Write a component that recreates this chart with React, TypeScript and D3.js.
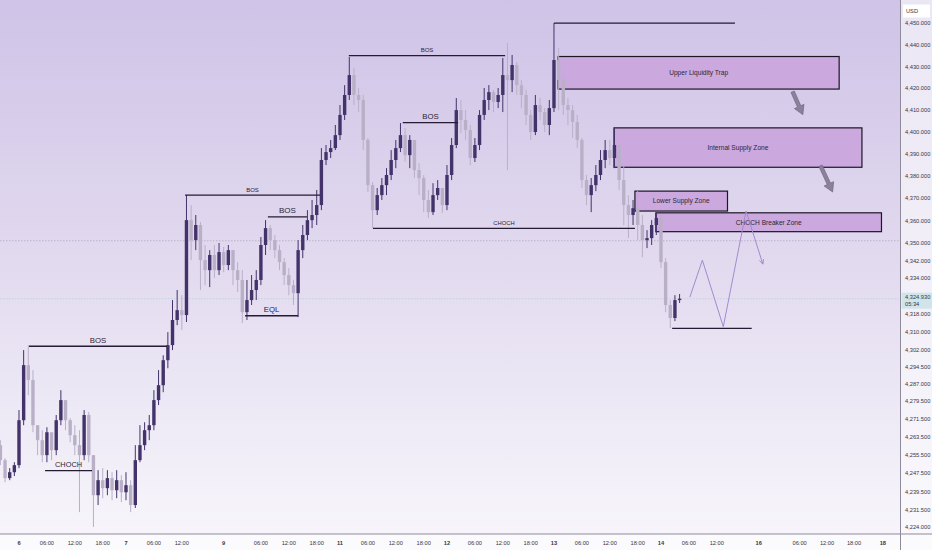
import React from "react";
import * as d3 from "d3";

// ---------- DATA (1h XAUUSD candles) ----------
const firstOpen = 4259.9;
const closes = [
  4253.3, 4245.4, 4248.0, 4251.1, 4270.9, 4295.3, 4288.7, 4268.7, 4262.1, 4255.5,
  4265.6, 4257.7, 4270.9, 4279.8, 4270.9, 4264.3, 4259.9, 4255.5, 4273.2, 4255.5,
  4237.9, 4244.5, 4241.0, 4245.4, 4240.1, 4244.5, 4239.2, 4242.3, 4233.6, 4253.3,
  4259.9, 4266.5, 4268.7, 4279.8, 4286.4, 4297.5, 4304.2, 4315.4, 4319.8, 4317.6,
  4360.2, 4351.2, 4358.0, 4342.2, 4337.7, 4344.5, 4337.7, 4345.8, 4340.0, 4346.7,
  4337.7, 4333.3, 4318.9, 4324.3, 4328.8, 4333.3, 4349.0, 4356.6, 4351.2, 4346.7,
  4341.3, 4335.5, 4331.0, 4327.4, 4346.7, 4353.5, 4360.2, 4362.5, 4367.0, 4387.4,
  4391.0, 4392.8, 4398.7, 4407.9, 4417.0, 4426.1, 4417.0, 4414.7, 4396.5, 4376.0,
  4364.7, 4371.5, 4376.0, 4380.6, 4387.4, 4392.8, 4398.7, 4389.6, 4396.5, 4382.8,
  4379.2, 4369.3, 4363.8, 4371.5, 4374.7, 4367.0, 4380.6, 4394.2, 4410.1, 4405.6,
  4401.0, 4388.3, 4394.2, 4407.9, 4414.7, 4418.3, 4413.8, 4417.0, 4426.1, 4423.8,
  4430.7, 4421.5, 4417.0, 4407.9, 4400.1, 4412.4, 4409.2, 4403.3, 4411.0, 4433.0,
  4423.8, 4412.4, 4410.1, 4404.7, 4396.5, 4378.3, 4371.5, 4376.0, 4380.6, 4387.4,
  4391.9, 4388.3, 4394.2, 4378.3, 4367.0, 4362.5, 4365.6, 4358.0, 4351.2, 4352.1,
  4358.0, 4361.1, 4341.3, 4322.1, 4316.3, 4324.3, 4324.93,
];
const highs = [
  4262.1, 4254.2, 4249.8, 4252.4, 4275.4, 4302.0, 4304.2, 4293.1, 4268.7, 4266.5,
  4267.8, 4265.2, 4273.2, 4284.2, 4277.6, 4271.8, 4268.7, 4266.5, 4275.4, 4274.5,
  4255.5, 4248.9, 4249.8, 4248.9, 4248.0, 4248.9, 4246.7, 4248.0, 4244.5, 4259.9,
  4268.7, 4270.0, 4273.2, 4284.2, 4293.1, 4299.7, 4310.0, 4324.3, 4328.8, 4326.5,
  4371.5, 4367.0, 4362.5, 4359.3, 4349.0, 4346.7, 4349.0, 4349.9, 4348.1, 4349.0,
  4346.7, 4341.3, 4337.7, 4333.3, 4335.5, 4337.7, 4352.6, 4360.2, 4358.0, 4353.5,
  4349.0, 4343.1, 4338.6, 4333.3, 4351.2, 4358.0, 4364.7, 4369.3, 4373.8, 4392.8,
  4394.2, 4396.5, 4403.3, 4412.4, 4421.5, 4434.4, 4429.4, 4420.2, 4417.0, 4397.4,
  4377.4, 4374.7, 4379.2, 4383.7, 4391.9, 4396.5, 4404.2, 4401.9, 4398.7, 4396.5,
  4386.0, 4380.6, 4373.8, 4376.9, 4378.3, 4374.7, 4385.1, 4397.4, 4415.6, 4414.7,
  4410.1, 4403.3, 4397.4, 4410.1, 4420.2, 4421.5, 4419.3, 4420.2, 4433.9, 4440.8,
  4435.3, 4432.1, 4423.8, 4419.3, 4410.1, 4417.0, 4415.6, 4411.0, 4414.7, 4450.0,
  4438.5, 4426.1, 4415.6, 4412.4, 4407.9, 4397.4, 4380.6, 4379.2, 4385.1, 4391.9,
  4396.5, 4396.5, 4401.9, 4394.2, 4385.1, 4371.5, 4369.3, 4373.3, 4362.5, 4355.7,
  4360.2, 4363.4, 4362.5, 4343.1, 4324.3, 4326.5, 4327.0,
];
const lows = [
  4251.1, 4243.6, 4244.5, 4246.3, 4249.8, 4268.7, 4282.0, 4265.6, 4255.5, 4252.4,
  4252.4, 4253.3, 4255.5, 4268.7, 4266.5, 4261.2, 4255.5, 4230.5, 4253.3, 4252.4,
  4224.0, 4233.6, 4236.6, 4237.9, 4235.7, 4236.6, 4234.9, 4235.7, 4230.5, 4232.3,
  4252.4, 4257.7, 4262.1, 4266.5, 4277.6, 4283.3, 4293.9, 4302.0, 4313.1, 4310.9,
  4314.5, 4342.2, 4346.7, 4328.8, 4331.0, 4330.1, 4334.1, 4335.5, 4336.8, 4337.7,
  4331.0, 4327.9, 4314.0, 4315.4, 4322.1, 4324.3, 4331.0, 4344.5, 4346.7, 4343.1,
  4337.7, 4331.0, 4326.5, 4322.1, 4316.7, 4343.1, 4351.2, 4356.6, 4358.0, 4364.7,
  4385.1, 4388.3, 4391.9, 4396.5, 4405.6, 4414.7, 4412.4, 4409.2, 4391.9, 4372.9,
  4356.6, 4362.5, 4369.3, 4371.5, 4378.3, 4383.7, 4391.0, 4386.5, 4383.7, 4379.2,
  4371.5, 4363.8, 4361.1, 4362.5, 4369.3, 4363.4, 4364.7, 4378.3, 4392.8, 4399.6,
  4396.5, 4385.1, 4386.5, 4391.9, 4405.6, 4410.1, 4409.2, 4411.0, 4409.2, 4382.8,
  4418.3, 4417.0, 4411.0, 4403.3, 4396.5, 4398.7, 4405.6, 4400.1, 4398.7, 4409.2,
  4410.1, 4407.9, 4403.3, 4397.4, 4392.8, 4374.7, 4367.0, 4363.8, 4373.3, 4378.3,
  4383.7, 4385.1, 4383.7, 4373.8, 4358.0, 4352.1, 4358.0, 4351.2, 4343.5, 4347.6,
  4349.0, 4353.5, 4338.6, 4318.9, 4311.8, 4314.9, 4323.0,
];

// time axis: label and bar index (1 bar = 1 hour of trading time)
const timeLabels = ["6", "06:00", "12:00", "18:00", "7", "06:00", "12:00", "9", "06:00", "12:00", "18:00", "11", "06:00", "12:00", "18:00", "12", "06:00", "12:00", "18:00", "13", "06:00", "12:00", "18:00", "14", "06:00", "12:00", "16", "06:00", "12:00", "18:00", "18"];
const timeBars = [4, 10, 16, 22, 27, 33, 39, 48, 56, 62, 68, 73, 79, 85, 91, 96, 102, 108, 114, 119, 125, 131, 137, 142, 148, 154, 163, 171.8, 177.7, 183.5, 189.7];
const dayLabels = ["6", "7", "9", "11", "12", "13", "14", "16", "18"];

const priceTicks = [4450, 4440, 4430, 4420, 4410, 4400, 4390, 4380, 4370, 4360, 4350, 4342, 4334, 4318, 4310, 4302, 4294.5, 4287, 4279.5, 4271.5, 4263.5, 4255.5, 4247.5, 4239.5, 4231.5, 4224];
const lastPrice = 4324.93;
const countdown = "05:34";

// structure lines
const structLabels = ["BOS", "CHOCH", "BOS", "BOS", "EQL", "BOS", "BOS", "CHOCH", ""];
const structStart = [6.15, 9.6, 39.7, 57.5, 52.6, 74.9, 86.5, 80.1, 119.0];
const structEnd = [35.8, 19.7, 68.7, 65.9, 64.0, 108.5, 98.4, 136.4, 157.9];
const structPrice = [4303.7, 4248.7, 4371.5, 4361.7, 4317.3, 4435.0, 4404.4, 4356.5, 4449.9];
const structFont = [7.8, 7.4, 6, 8, 7.8, 6, 7.8, 5.8, 6];

// zones
const zoneNames = ["Upper Liquidity Trap", "Internal Supply Zone", "Lower Supply Zone", "CHOCH Breaker Zone"];
const zoneStart = [119.9, 131.9, 136.4, 140.9];
const zoneEnd = [180.3, 185.2, 156.3, 189.4];
const zoneTop = [4434.6, 4402.0, 4373.3, 4363.5];
const zoneBottom = [4419.7, 4384.1, 4364.3, 4355.0];

// projection path
const projBars = [148.2, 150.9, 155.4, 160.3, 163.9];
const projPrices = [4325.6, 4342.2, 4312.4, 4364.3, 4340.4];

// support line under the low
const supportStart = 144.4;
const supportEnd = 161.5;
const supportPrice = 4311.7;

// arrow markers
const arrowFrom = [[170.3, 4418.5], [176.3, 4384.8]];
const arrowTo = [[172.5, 4408.0], [178.9, 4372.9]];

const dottedPrice = 4350.9;

// ---------- COMPONENT ----------
const W = 932;
const H = 550;
const PLOT_R = 900.5;
const AXIS_Y = 534;
const FONT = "'Liberation Sans', Arial, sans-serif";

export default function App() {
  const x = d3.scaleLinear().domain([0, 200]).range([0.39, 0.39 + 4.652 * 200]);
  const y = d3.scaleLog().domain([4224, 4450]).range([527, 23]);

  const bars = closes.map((c, i) => ({
    i,
    o: i === 0 ? firstOpen : closes[i - 1],
    c,
    h: highs[i],
    l: lows[i],
  }));

  const bull = "#43336a";
  const bear = "#b9b0c8";
  const bodyW = 3.4;
  const fmt = d3.format(",.3f");

  const projLine = d3
    .line<number>()
    .x((_, k) => x(projBars[k]))
    .y((p) => y(p))(projPrices);

  const n = projBars.length;
  const ex = x(projBars[n - 1]);
  const ey = y(projPrices[n - 1]);
  const ang = Math.atan2(ey - y(projPrices[n - 2]), ex - x(projBars[n - 2]));
  const headL = 5;
  const h1 = [ex - headL * Math.cos(ang - 0.45), ey - headL * Math.sin(ang - 0.45)];
  const h2 = [ex - headL * Math.cos(ang + 0.45), ey - headL * Math.sin(ang + 0.45)];

  return (
    <svg
      width={W}
      height={H}
      style={{ position: "absolute", left: 0, top: 0, display: "block" }}
      fontFamily={FONT}
    >
      <defs>
        <linearGradient id="bg" x1="0" y1="0" x2="0" y2="1">
          <stop offset="0" stopColor="#cfc3e7" />
          <stop offset="0.45" stopColor="#e0d8ee" />
          <stop offset="1" stopColor="#f7f5fb" />
        </linearGradient>
        <linearGradient id="axbg" x1="0" y1="0" x2="0" y2="1">
          <stop offset="0" stopColor="#ebe6f4" />
          <stop offset="1" stopColor="#f9f8fc" />
        </linearGradient>
      </defs>
      <rect x={0} y={0} width={W} height={H} fill="#fbfafd" />
      <rect x={0} y={0} width={PLOT_R} height={AXIS_Y} fill="url(#bg)" />
      <rect x={PLOT_R} y={0} width={W - PLOT_R} height={AXIS_Y} fill="url(#axbg)" />

      {/* dotted reference lines */}
      <line x1={0} x2={PLOT_R} y1={y(dottedPrice)} y2={y(dottedPrice)} stroke="#a9a3b6" strokeWidth={0.7} strokeDasharray="1.5,1.5" />
      <line x1={0} x2={PLOT_R} y1={y(lastPrice)} y2={y(lastPrice)} stroke="#b9cdd6" strokeWidth={0.7} strokeDasharray="1.5,1.5" />

      {/* zones */}
      {zoneNames.map((name, k) => (
        <g key={"z" + k}>
          <rect
            x={x(zoneStart[k])}
            y={y(zoneTop[k])}
            width={x(zoneEnd[k]) - x(zoneStart[k])}
            height={y(zoneBottom[k]) - y(zoneTop[k])}
            fill="#cba9de"
            stroke="#1c1626"
            strokeWidth={1.2}
          />
          <text
            x={(x(zoneStart[k]) + x(zoneEnd[k])) / 2}
            y={(y(zoneTop[k]) + y(zoneBottom[k])) / 2 + 2.3}
            textAnchor="middle"
            fontSize={6.6}
            fill="#2b2438"
          >
            {name}
          </text>
        </g>
      ))}

      {/* candles */}
      {bars.map((b) => {
        const up = b.c >= b.o;
        const col = up ? bull : bear;
        const cx = x(b.i);
        const top = y(Math.max(b.o, b.c));
        const bot = y(Math.min(b.o, b.c));
        return (
          <g key={"c" + b.i}>
            <line x1={cx} x2={cx} y1={y(b.h)} y2={y(b.l)} stroke={col} strokeWidth={1} />
            <rect x={cx - bodyW / 2} y={top} width={bodyW} height={Math.max(0.8, bot - top)} fill={col} />
          </g>
        );
      })}

      {/* structure lines */}
      {structLabels.map((lab, k) => (
        <g key={"s" + k}>
          <line
            x1={x(structStart[k])}
            x2={x(structEnd[k])}
            y1={y(structPrice[k])}
            y2={y(structPrice[k])}
            stroke="#241b35"
            strokeWidth={1.3}
          />
          {lab && (
            <text
              x={(x(structStart[k]) + x(structEnd[k])) / 2}
              y={y(structPrice[k]) - 3.5}
              textAnchor="middle"
              fontSize={structFont[k]}
              fill="#2b2438"
            >
              {lab}
            </text>
          )}
        </g>
      ))}

      {/* support line */}
      <line x1={x(supportStart)} x2={x(supportEnd)} y1={y(supportPrice)} y2={y(supportPrice)} stroke="#241b35" strokeWidth={1.3} />

      {/* projection */}
      <path d={projLine ?? ""} fill="none" stroke="#a18bcf" strokeWidth={1} />
      <polyline points={`${h1[0]},${h1[1]} ${ex},${ey} ${h2[0]},${h2[1]}`} fill="none" stroke="#a18bcf" strokeWidth={1} />

      {/* arrow markers */}
      {arrowFrom.map((f, k) => {
        const x0 = x(f[0]);
        const y0 = y(f[1]);
        const x1 = x(arrowTo[k][0]);
        const y1 = y(arrowTo[k][1]);
        const L = Math.hypot(x1 - x0, y1 - y0);
        const rot = (-Math.atan2(x1 - x0, y1 - y0) * 180) / Math.PI;
        const pts = [
          [-1.8, 0], [1.8, 0], [1.8, L - 9], [5.2, L - 9], [0, L], [-5.2, L - 9], [-1.8, L - 9],
        ].map((p) => p.join(",")).join(" ");
        return (
          <polygon
            key={"a" + k}
            points={pts}
            transform={`translate(${x0},${y0}) rotate(${rot})`}
            fill="#8c809c"
            stroke="#6f6480"
            strokeWidth={0.6}
          />
        );
      })}

      {/* axes frame */}
      <line x1={PLOT_R} x2={PLOT_R} y1={0} y2={H} stroke="#8f8a99" strokeWidth={1} />
      <line x1={0} x2={W} y1={AXIS_Y} y2={AXIS_Y} stroke="#8f8a99" strokeWidth={1} />

      {/* price axis labels */}
      {priceTicks.map((p) => (
        <text key={"p" + p} x={905} y={y(p) + 2} fontSize={5.7} fill="#3a3544">
          {fmt(p)}
        </text>
      ))}

      {/* last price label */}
      <rect x={901.5} y={y(lastPrice) - 6} width={30.5} height={16} fill="#cfe5ea" />
      <text x={905} y={y(lastPrice) + 0.5} fontSize={5.7} fill="#3a3544">{fmt(lastPrice)}</text>
      <text x={905} y={y(lastPrice) + 7} fontSize={5.7} fill="#3a3544">{countdown}</text>

      {/* currency */}
      <rect x={903} y={4.5} width={27} height={13} fill="#ffffff" />
      <text x={906} y={13} fontSize={5.7} fill="#3a3544">USD</text>

      {/* time axis labels */}
      {timeLabels.map((t, k) => (
        <text
          key={"t" + k}
          x={x(timeBars[k])}
          y={545}
          textAnchor="middle"
          fontSize={5.7}
          fontWeight={dayLabels.includes(t) && t.indexOf(":") < 0 ? 700 : 400}
          fill="#3a3544"
        >
          {t}
        </text>
      ))}
    </svg>
  );
}
